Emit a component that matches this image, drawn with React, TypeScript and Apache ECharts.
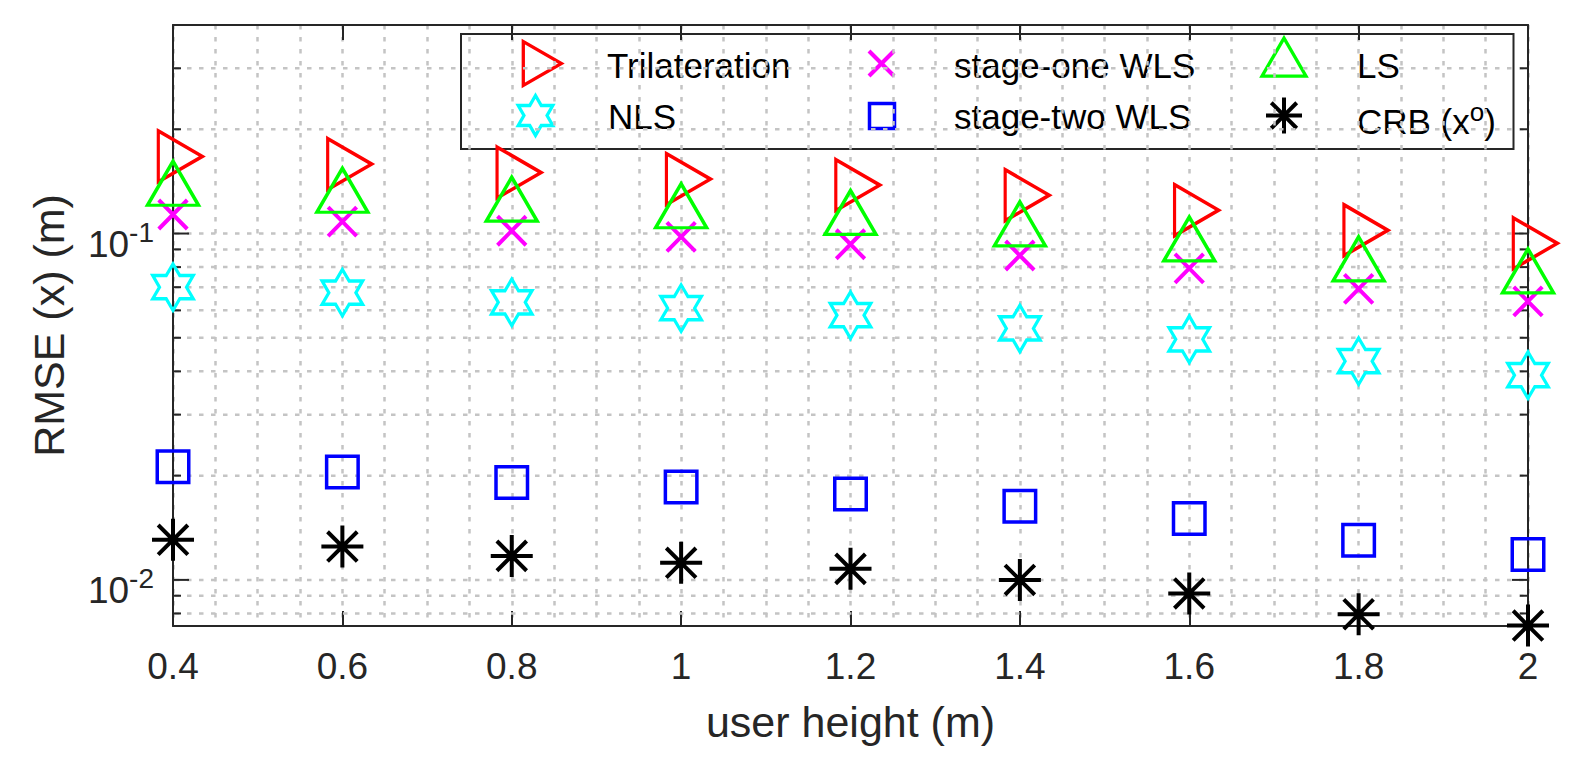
import React, { useEffect, useRef } from "react";
import * as echarts from "echarts";

// ---------- data ----------
const heights = [0.4, 0.6, 0.8, 1.0, 1.2, 1.4, 1.6, 1.8, 2.0];
const trilateration = [0.167, 0.1587, 0.15, 0.1436, 0.138, 0.129, 0.1168, 0.1022, 0.0937];
const nls = [0.07, 0.0675, 0.0633, 0.0609, 0.0581, 0.0532, 0.0495, 0.0428, 0.039];
const stageOneWLS = [0.1135, 0.1082, 0.1019, 0.0978, 0.0931, 0.0864, 0.0793, 0.0692, 0.0637];
const stageTwoWLS = [0.02123, 0.0205, 0.0191, 0.01854, 0.01769, 0.01632, 0.01503, 0.01302, 0.01183];
const lsValues = [0.1331, 0.127, 0.1197, 0.1146, 0.1096, 0.1016, 0.0919, 0.0805, 0.0743];
const crb = [0.01305, 0.01248, 0.01173, 0.0112, 0.01076, 0.01, 0.00914, 0.00796, 0.00738];

const xMin = 0.4;
const xMax = 2;
const xInterval = 0.2;
const yMin = 0.00736;
const yMax = 0.4;
const yGridValues = [
  0.008, 0.009, 0.01, 0.02, 0.03, 0.04, 0.05, 0.06, 0.07, 0.08, 0.09, 0.1, 0.2, 0.3, 0.4,
];

const legendNames = ["Trilateration", "NLS", "stage-one WLS", "stage-two WLS", "LS", "CRB (x"];

// ---------- style ----------
const FONT = "'Liberation Sans', Arial, Helvetica, sans-serif";
const AXIS = "#262626";
const GRID = "#c4c4c4";
const RED = "#ff0000";
const CYAN = "#00ffff";
const MAGENTA = "#ff00ff";
const BLUE = "#0000ff";
const GREEN = "#00ff00";
const BLACK = "#000000";

const gridLine = { color: GRID, width: 2.5, type: [4.5, 7.5] as any };

const triRightPath = "path://M0,0L0.866,0.5L0,1Z";
const hexPath =
  "path://M0,-1L0.2887,-0.5L0.866,-0.5L0.5774,0L0.866,0.5L0.2887,0.5L0,1L-0.2887,0.5L-0.866,0.5L-0.5774,0L-0.866,-0.5L-0.2887,-0.5Z";
const crossPath = "path://M0,0L1,1M1,0L0,1";
const asteriskPath =
  "path://M0.5,0L0.5,1M0,0.5L1,0.5M0.1464,0.1464L0.8536,0.8536M0.1464,0.8536L0.8536,0.1464";

function isPow10(v: number) {
  const e = Math.log10(v);
  return Math.abs(e - Math.round(e)) < 1e-6;
}

function scatter(name: string, values: number[], symbol: string, size: any, color: string, bw: number, offset: any = [0, 0]) {
  return {
    type: "scatter",
    name,
    data: heights.map((h, i) => [h, values[i]]),
    symbol,
    symbolSize: size,
    symbolOffset: offset,
    itemStyle: { color: "rgba(0,0,0,0)", borderColor: color, borderWidth: bw, opacity: 1 },
    clip: false,
    silent: true,
    z: 3,
  };
}

// ---------- legend (drawn) ----------
function triRight(cx: number, cy: number, s: number, color: string) {
  return {
    type: "polygon",
    shape: { points: [[cx - 0.2887 * s, cy - s / 2], [cx - 0.2887 * s, cy + s / 2], [cx + 0.5774 * s, cy]] },
    style: { fill: "none", stroke: color, lineWidth: 3.3 },
  };
}
function triUp(cx: number, cy: number, s: number, color: string) {
  return {
    type: "polygon",
    shape: { points: [[cx, cy - 0.5774 * s], [cx + s / 2, cy + 0.2887 * s], [cx - s / 2, cy + 0.2887 * s]] },
    style: { fill: "none", stroke: color, lineWidth: 3.3 },
  };
}
function hexagram(cx: number, cy: number, r: number, color: string) {
  const pts: number[][] = [];
  for (let k = 0; k < 12; k++) {
    const ang = ((-90 + k * 30) * Math.PI) / 180;
    const rad = k % 2 === 0 ? r : r / Math.sqrt(3);
    pts.push([cx + rad * Math.cos(ang), cy + rad * Math.sin(ang)]);
  }
  return { type: "polygon", shape: { points: pts }, style: { fill: "none", stroke: color, lineWidth: 3.3 } };
}
function crossMark(cx: number, cy: number, h: number, color: string) {
  return {
    type: "group",
    children: [
      { type: "line", shape: { x1: cx - h, y1: cy - h, x2: cx + h, y2: cy + h }, style: { stroke: color, lineWidth: 4 } },
      { type: "line", shape: { x1: cx - h, y1: cy + h, x2: cx + h, y2: cy - h }, style: { stroke: color, lineWidth: 4 } },
    ],
  };
}
function squareMark(cx: number, cy: number, a: number, color: string) {
  return {
    type: "rect",
    shape: { x: cx - a / 2, y: cy - a / 2, width: a, height: a },
    style: { fill: "none", stroke: color, lineWidth: 3.5 },
  };
}
function asteriskMark(cx: number, cy: number, r: number, color: string) {
  const d = r * 0.7071;
  const seg = (x1: number, y1: number, x2: number, y2: number) => ({
    type: "line",
    shape: { x1, y1, x2, y2 },
    style: { stroke: color, lineWidth: 4 },
  });
  return {
    type: "group",
    children: [
      seg(cx, cy - r, cx, cy + r),
      seg(cx - r, cy, cx + r, cy),
      seg(cx - d, cy - d, cx + d, cy + d),
      seg(cx - d, cy + d, cx + d, cy - d),
    ],
  };
}

function legendText(x: number, y: number, text: string) {
  return {
    type: "text",
    x,
    y,
    style: { text, fontSize: 35, fontFamily: FONT, fill: BLACK, align: "left", verticalAlign: "middle" },
  };
}

function buildLegend() {
  const r1 = 63.5;
  const r2 = 115.5;
  return {
    type: "group",
    z: 100,
    children: [
      {
        type: "rect",
        shape: { x: 461, y: 34, width: 1052.5, height: 115 },
        style: { fill: "#ffffff", stroke: AXIS, lineWidth: 2 },
      },
      triRight(536, r1, 44, RED),
      legendText(607, 65, legendNames[0]),
      hexagram(535.5, r2, 20, CYAN),
      legendText(608, 116.5, legendNames[1]),
      crossMark(881.5, r1, 12.5, MAGENTA),
      legendText(954, 65, legendNames[2]),
      squareMark(882, 116, 25, BLUE),
      legendText(954, 116.5, legendNames[3]),
      triUp(1284, r1, 44, GREEN),
      legendText(1357, 65, legendNames[4]),
      asteriskMark(1284, r2, 18, BLACK),
      {
        type: "text",
        x: 1357,
        y: 119,
        style: {
          text: "{n|" + legendNames[5] + "}{s|o}{n|)}",
          align: "left",
          verticalAlign: "middle",
          rich: {
            n: { fontSize: 35, fontFamily: FONT, fill: BLACK, lineHeight: 40, verticalAlign: "bottom" },
            s: { fontSize: 26, fontFamily: FONT, fill: BLACK, lineHeight: 26, verticalAlign: "top" },
          },
        },
      },
    ],
  };
}

export default function App() {
  const ref = useRef<HTMLDivElement>(null);

  useEffect(() => {
    if (!ref.current) return;
    const chart = echarts.init(ref.current, undefined, { renderer: "svg" });

    const option: any = {
      animation: false,
      backgroundColor: "#ffffff",
      grid: { left: 173, right: 54, top: 25, bottom: 144, containLabel: false },
      xAxis: [
        {
          type: "value",
          position: "bottom",
          min: xMin,
          max: xMax,
          interval: xInterval,
          axisLine: { show: true, onZero: false, lineStyle: { color: AXIS, width: 2 } },
          axisTick: { show: true, inside: true, length: 15, lineStyle: { color: AXIS, width: 2 } },
          axisLabel: { fontSize: 37, color: AXIS, fontFamily: FONT, margin: 22 },
          splitLine: { show: true, lineStyle: gridLine },
          minorTick: { show: false, splitNumber: 4 },
          minorSplitLine: { show: true, lineStyle: gridLine },
          name: "user height (m)",
          nameLocation: "middle",
          nameGap: 74,
          nameTextStyle: { fontSize: 43, color: AXIS, fontFamily: FONT },
        },
        {
          type: "value",
          position: "top",
          min: xMin,
          max: xMax,
          interval: xInterval,
          axisLine: { show: true, onZero: false, lineStyle: { color: AXIS, width: 2 } },
          axisTick: { show: true, inside: true, length: 15, lineStyle: { color: AXIS, width: 2 } },
          axisLabel: { show: false },
          splitLine: { show: false },
        },
      ],
      yAxis: [
        {
          type: "log",
          logBase: 10,
          position: "left",
          min: yMin,
          max: yMax,
          axisLine: { show: true, onZero: false, lineStyle: { color: AXIS, width: 2 } },
          axisTick: { show: false },
          splitLine: { show: false },
          minorTick: { show: false },
          axisLabel: {
            margin: 19,
            padding: [14, 0, 0, 0],
            formatter: (v: number) => {
              if (!isPow10(v)) return "";
              return "{b|10}{s|" + Math.round(Math.log10(v)) + "}";
            },
            rich: {
              b: { fontSize: 37, color: AXIS, fontFamily: FONT, lineHeight: 44, verticalAlign: "bottom" },
              s: { fontSize: 28, color: AXIS, fontFamily: FONT, lineHeight: 16, verticalAlign: "top" },
            },
          },
          name: "RMSE (x) (m)",
          nameLocation: "middle",
          nameGap: 103,
          nameTextStyle: { fontSize: 43, color: AXIS, fontFamily: FONT },
        },
        {
          type: "log",
          logBase: 10,
          position: "right",
          min: yMin,
          max: yMax,
          axisLine: { show: true, onZero: false, lineStyle: { color: AXIS, width: 2 } },
          axisTick: { show: false },
          splitLine: { show: false },
          axisLabel: { show: false },
        },
      ],
      series: [
        {
          type: "custom",
          xAxisIndex: 0,
          yAxisIndex: 0,
          z: 1,
          silent: true,
          clip: false,
          data: yGridValues.map((v) => [xMin, v]),
          renderItem: (params: any, api: any) => {
            const cs = params.coordSys;
            const v = api.value(1);
            const y = api.coord([xMin, v])[1];
            const tl = isPow10(v) ? 16 : 8;
            const L = cs.x;
            const R = cs.x + cs.width;
            const children: any[] = [];
            if (y > cs.y + 3 && y < cs.y + cs.height - 3) {
              children.push({
                type: "line",
                shape: { x1: L + 2, y1: y, x2: R - 2, y2: y },
                style: { stroke: GRID, lineWidth: 2.5, lineDash: [4.5, 7.5] },
              });
            }
            children.push(
              { type: "line", shape: { x1: L, y1: y, x2: L + tl, y2: y }, style: { stroke: AXIS, lineWidth: 2 } },
              { type: "line", shape: { x1: R - tl, y1: y, x2: R, y2: y }, style: { stroke: AXIS, lineWidth: 2 } }
            );
            return { type: "group", children };
          },
        },
        scatter("Trilateration", trilateration, triRightPath, [44, 51], RED, 3.4, [7.3, 0]),
        scatter("NLS", nls, hexPath, [40.5, 46.5], CYAN, 3.3),
        scatter("stage-one WLS", stageOneWLS, crossPath, [28.5, 29], MAGENTA, 4),
        scatter("stage-two WLS", stageTwoWLS, "rect", [31.5, 31.5], BLUE, 3.5),
        scatter("LS", lsValues, "triangle", [51, 44], GREEN, 3.4, [0, -7.3]),
        scatter("CRB (x^o)", crb, asteriskPath, [42, 42], BLACK, 4),
      ],
      graphic: [buildLegend()],
    };

    chart.setOption(option);
    return () => chart.dispose();
  }, []);

  return (
    <div
      ref={ref}
      style={{ position: "absolute", left: 0, top: 0, width: 1582, height: 770, background: "#fff" }}
    />
  );
}
